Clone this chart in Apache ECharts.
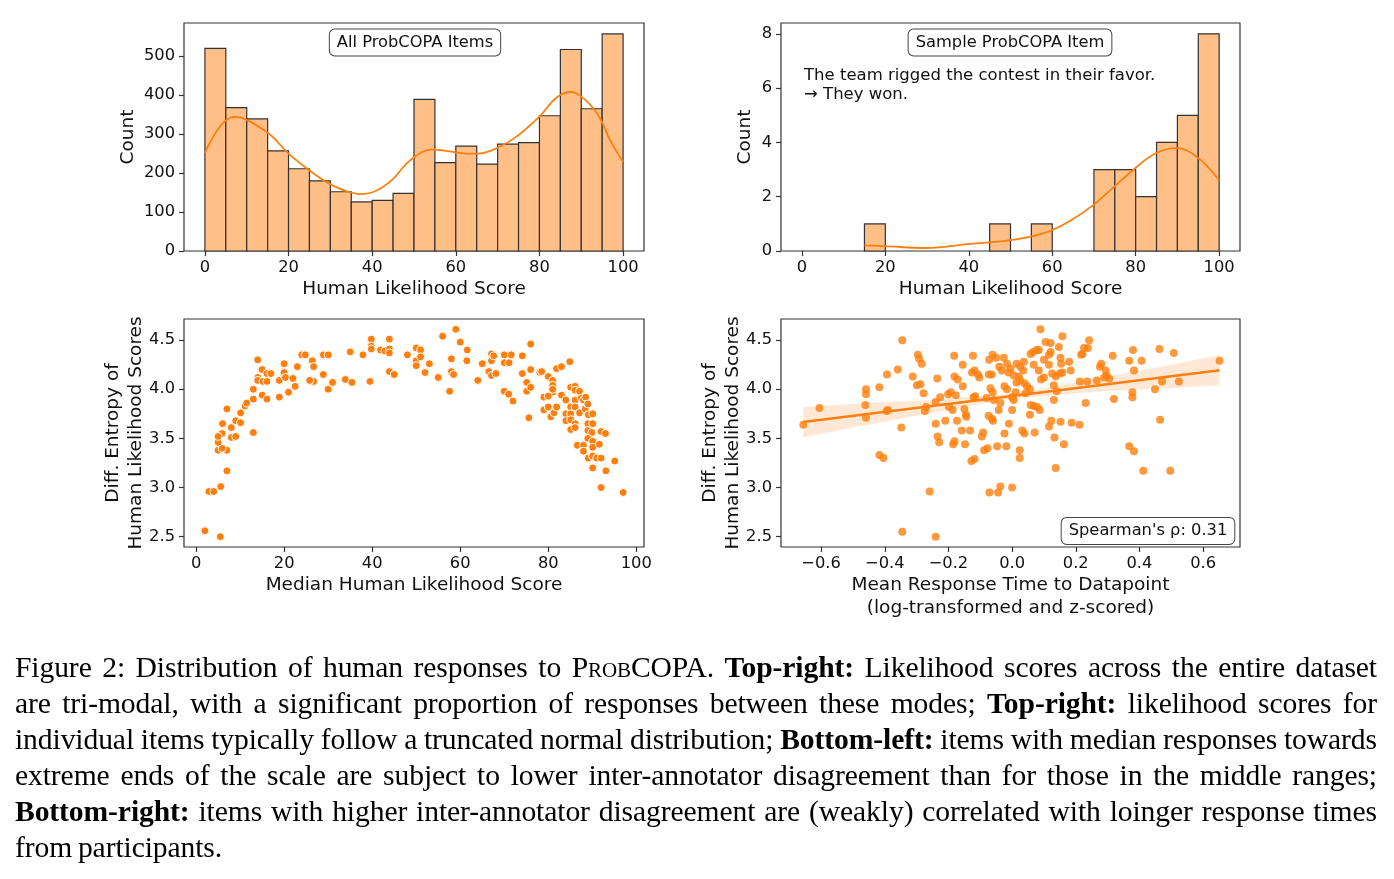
<!DOCTYPE html>
<html>
<head>
<meta charset="utf-8">
<script src="https://cdn.jsdelivr.net/npm/echarts@6/dist/echarts.min.js"></script>
<style>
html, body { margin: 0; padding: 0; background: #fff; }
#chart { position: absolute; left: 0; top: 0; width: 1394px; height: 879px; }
#caption {
  position: absolute; left: 15px; top: 649px; width: 1362px;
  font-family: "Liberation Serif", "Times New Roman", serif;
  font-size: 29.6px; line-height: 36px; letter-spacing: -0.1px; word-spacing: -1.5px; color: #000;
}
#caption div { white-space: nowrap; text-align: justify; text-align-last: justify; }
#caption div.last { text-align-last: left; }
.sc { font-variant: small-caps; }
</style>
</head>
<body>
<div id="chart"></div>
<div id="caption">
  <div>Figure 2: Distribution of human responses to <span class="sc">ProbCOPA</span>. <b>Top-right:</b> Likelihood scores across the entire dataset</div>
  <div>are tri-modal, with a significant proportion of responses between these modes; <b>Top-right:</b> likelihood scores for</div>
  <div>individual items typically follow a truncated normal distribution; <b>Bottom-left:</b> items with median responses towards</div>
  <div>extreme ends of the scale are subject to lower inter-annotator disagreement than for those in the middle ranges;</div>
  <div><b>Bottom-right:</b> items with higher inter-annotator disagreement are (weakly) correlated with loinger response times</div>
  <div class="last">from participants.</div>
</div>
<script>
// histogram bins (width 5)
const binWidth = 5
const binStarts = [0, 5, 10, 15, 20, 25, 30, 35, 40, 45, 50, 55, 60, 65, 70, 75, 80, 85, 90, 95]
const allCounts = [520, 368, 339, 257, 211, 180, 152, 126, 130, 148, 389, 227, 269, 223, 274, 278, 347, 517, 365, 557]
const sampleCounts = [0, 0, 0, 1, 0, 0, 0, 0, 0, 1, 0, 1, 0, 0, 3, 3, 2, 4, 5, 8]

// kde curves
const allKdeX = [0, 7, 14.7, 20, 25, 30, 34.3, 37, 40.4, 44.7, 48.2, 51.6, 54.2, 57.6, 62.7, 65.3, 68.7, 73.9, 79.9, 84.1, 87.5, 91, 94.3, 96.9, 100]
const allKdeY = [252, 344, 306, 250, 207, 171, 152, 146, 152, 182, 224, 252, 260, 257, 250, 250, 259, 289, 344, 394, 408, 387, 344, 284, 229]
const sampleKdeX = [15, 19.8, 29.8, 39.7, 49.6, 54.5, 59.5, 64.5, 69.8, 74.8, 79.8, 84.7, 89.7, 94.6, 100]
const sampleKdeY = [0.21, 0.18, 0.11, 0.25, 0.39, 0.52, 0.74, 1.13, 1.69, 2.36, 3.04, 3.59, 3.79, 3.47, 2.61]

// tick labels
const scoreTicks = [0, 20, 40, 60, 80, 100]
const allCountTicks = [0, 100, 200, 300, 400, 500]
const sampleCountTicks = [0, 2, 4, 6, 8]
const entropyTicks = [2.5, 3.0, 3.5, 4.0, 4.5]
const timeTicks = [-0.6, -0.4, -0.2, 0, 0.2, 0.4, 0.6]

// bottom-left: [median score, diff. entropy]
const medianVsEntropy = [
  [2.0,2.56],[5.5,2.50],[2.9,2.96],[4.0,2.96],[5.6,3.01],[7.0,3.17],[5.0,3.38],[7.0,3.38],[5.9,3.40],[5.0,3.46],
  [5.9,3.55],[5.0,3.52],[8.0,3.51],[9.0,3.52],[6.0,3.65],[8.0,3.61],[9.0,3.68],[7.0,3.80],[10.1,3.66],[10.1,3.76],
  [11.1,3.83],[11.5,3.86],[13.0,3.56],[13.0,3.90],[13.0,4.00],[14.0,4.30],[14.0,4.12],[14.0,4.09],[15.0,4.20],[15.0,3.94],
  [16.1,3.90],[16.1,4.16],[17.0,4.16],[15.2,4.08],[16.1,4.08],[18.9,3.92],[21.0,3.97],[18.9,4.09],[20.0,4.26],[20.0,4.14],
  [20.0,4.17],[20.3,4.12],[22.0,4.11],[22.5,4.03],[23.0,4.23],[24.0,4.35],[24.8,4.35],[26.4,4.29],[26.7,4.23],[26.7,4.08],
  [25.8,4.09],[28.9,4.35],[30.0,4.35],[28.9,4.15],[30.0,4.00],[31.0,4.07],[33.9,4.10],[35.4,4.07],[35.0,4.38],[37.9,4.35],
  [39.5,4.08],[39.8,4.51],[39.8,4.44],[39.8,4.41],[41.9,4.40],[42.9,4.39],[43.9,4.51],[43.9,4.41],[43.9,4.37],[43.9,4.18],
  [45.0,4.15],[48.0,4.35],[50.0,4.42],[51.0,4.40],[50.0,4.29],[50.0,4.24],[51.0,4.33],[53.0,4.26],[52.0,4.17],[55.0,4.12],
  [56.0,4.54],[58.0,4.31],[57.6,3.98],[58.0,4.18],[58.5,4.15],[59.0,4.61],[60.0,4.48],[61.6,4.40],[61.5,4.29],[64.0,4.09],
  [65.0,4.26],[67.1,4.36],[67.1,4.29],[67.6,4.34],[66.5,4.18],[67.1,4.14],[68.1,4.16],[70.0,4.35],[71.6,4.35],[70.0,4.27],
  [71.1,4.27],[70.0,3.98],[71.0,3.95],[72.0,3.88],[74.1,4.34],[74.1,4.16],[75.1,4.07],[75.1,3.98],[76.0,4.46],[76.0,4.20],
  [76.0,4.02],[75.6,3.71],[78.1,4.17],[78.5,4.18],[80.0,4.13],[81.0,4.09],[81.0,4.04],[81.0,3.97],[81.0,4.00],[81.9,4.21],
  [83.0,4.23],[84.9,4.28],[79.0,3.92],[80.0,3.93],[79.0,3.79],[80.0,3.82],[80.6,3.72],[81.3,3.76],[81.9,3.82],[83.0,3.94],
  [84.0,3.89],[84.0,3.75],[84.0,3.68],[85.1,4.02],[85.1,3.82],[85.1,3.75],[85.1,3.69],[85.1,3.59],[86.1,4.03],[86.1,3.99],
  [86.1,3.89],[86.1,3.82],[86.1,3.65],[86.1,3.61],[87.1,3.98],[87.5,3.91],[87.1,3.76],[88.0,3.89],[88.5,3.92],[88.4,3.80],
  [89.0,3.85],[89.1,3.74],[90.1,3.75],[89.0,3.65],[90.1,3.65],[89.0,3.58],[89.9,3.56],[86.6,3.43],[88.0,3.43],[89.0,3.50],
  [90.1,3.47],[88.0,3.37],[90.1,3.41],[89.1,3.30],[90.1,3.32],[91.0,3.30],[92.0,3.30],[91.6,3.44],[92.0,3.57],[93.0,3.55],
  [90.1,3.20],[93.1,3.17],[95.1,3.27],[92.0,3.00],[97.0,2.95]
]

// bottom-right: [mean response time (log, z), diff. entropy]
const timeVsEntropy = [
  [-0.656,3.64],[-0.605,3.81],[-0.459,4.00],[-0.459,3.95],[-0.461,3.84],[-0.459,3.71],[-0.417,4.02],[-0.417,3.33],[-0.404,3.30],[-0.394,3.78],
  [-0.39,3.79],[-0.393,4.15],[-0.359,4.20],[-0.345,4.50],[-0.348,3.61],[-0.345,2.55],[-0.312,4.13],[-0.296,4.35],[-0.292,4.31],[-0.284,4.26],
  [-0.299,4.04],[-0.288,4.05],[-0.278,3.96],[-0.27,3.82],[-0.274,3.78],[-0.259,2.96],[-0.24,3.65],[-0.24,2.50],[-0.235,4.11],[-0.234,3.52],
  [-0.229,3.46],[-0.226,3.92],[-0.24,3.87],[-0.21,3.68],[-0.201,3.95],[-0.193,3.97],[-0.185,3.44],[-0.181,3.47],[-0.182,4.34],[-0.198,3.82],
  [-0.187,3.79],[-0.181,4.13],[-0.171,4.10],[-0.177,3.94],[-0.173,3.68],[-0.155,4.25],[-0.155,4.03],[-0.15,3.80],[-0.145,3.74],[-0.144,3.72],
  [-0.148,3.44],[-0.158,3.58],[-0.132,3.58],[-0.123,4.34],[-0.126,4.17],[-0.118,4.19],[-0.121,3.92],[-0.116,3.93],[-0.128,3.27],[-0.118,3.29],
  [-0.107,4.15],[-0.103,4.12],[-0.095,3.52],[-0.091,3.56],[-0.088,3.38],[-0.077,3.40],[-0.08,3.91],[-0.072,4.30],[-0.061,4.35],[-0.05,4.32],
  [-0.073,4.15],[-0.064,4.15],[-0.074,3.73],[-0.063,3.70],[-0.06,3.68],[-0.071,2.95],[-0.044,2.95],[-0.037,3.01],[-0.068,4.01],[-0.061,3.97],
  [-0.057,3.89],[-0.047,3.42],[-0.04,4.23],[-0.032,4.19],[-0.042,3.79],[-0.037,3.86],[0.0,3.92],[-0.01,3.65],
  [-0.026,4.32],[-0.016,4.26],[-0.005,4.21],[-0.024,4.03],[-0.016,4.00],[-0.011,4.17],[0.005,4.14],[0.014,4.26],[0.026,4.23],[0.037,4.28],
  [0.035,4.19],[0.021,4.13],[0.026,4.09],[0.014,4.07],[0.039,4.06],[0.047,4.03],[0.056,4.00],[0.042,3.96],[0.011,3.97],[0.005,3.89],
  [0.0,3.79],[-0.024,3.55],[-0.018,3.42],[0.0,3.00],[0.024,3.38],[0.024,3.30],[0.032,3.58],[0.039,3.55],[0.058,3.84],[0.068,3.83],
  [0.079,3.82],[0.087,3.79],[0.056,3.74],[0.071,3.56],[0.058,4.36],[0.066,4.38],[0.077,4.40],[0.084,4.40],[0.089,4.61],[0.1,4.12],
  [0.091,4.10],[0.084,4.19],[0.068,4.25],[0.105,4.48],[0.121,4.47],[0.116,4.35],[0.121,4.38],[0.1,4.30],[0.116,4.25],[0.126,4.16],
  [0.137,4.13],[0.131,4.04],[0.14,3.98],[0.147,4.43],[0.158,4.54],[0.152,4.32],[0.154,4.26],[0.158,4.17],[0.15,4.16],[0.131,3.89],
  [0.123,3.68],[0.116,3.62],[0.133,3.51],[0.137,3.20],[0.152,3.67],[0.163,3.44],[0.179,4.28],[0.184,4.19],[0.187,3.66],[0.212,3.64],
  [0.213,4.08],[0.221,4.36],[0.217,4.35],[0.226,4.42],[0.242,4.50],[0.238,4.42],[0.231,3.86],[0.236,4.08],[0.266,4.09],[0.276,4.23],
  [0.28,4.26],[0.294,4.19],[0.297,4.14],[0.305,4.11],[0.289,4.12],[0.316,4.34],[0.32,3.90],[0.368,4.29],[0.38,4.40],[0.383,4.19],
  [0.378,3.97],[0.378,3.92],[0.368,3.42],[0.383,3.37],[0.407,4.29],[0.412,3.17],[0.449,4.00],[0.463,4.41],[0.471,4.08],[0.465,3.69],
  [0.508,4.37],[0.524,4.08],[0.497,3.17],[0.652,4.29]
]

// regression line and its confidence band
const regX = [-0.656, 0.652]
const regY = [3.666, 4.193]
const bandX = [-0.656, -0.5, -0.4, -0.3, -0.2, -0.1, 0, 0.1, 0.2, 0.3, 0.4, 0.5, 0.652]
const bandLow = [3.51, 3.61, 3.67, 3.73, 3.79, 3.85, 3.90, 3.93, 3.96, 3.98, 4.00, 4.01, 4.04]
const bandHigh = [3.82, 3.85, 3.87, 3.88, 3.91, 3.93, 3.96, 4.01, 4.07, 4.13, 4.19, 4.25, 4.35]

const FONT = 'DejaVu Sans'
const AX = '#333'
const ORANGE = '#ff7f0e'

const valueAxis = (gridIndex, min, max, ticks, fmt, name, nameGap) => ({
  type: 'value', gridIndex, min, max,
  name, nameLocation: 'middle', nameGap, nameMoveOverlap: false,
  nameTextStyle: {fontFamily: FONT, fontSize: 18.5, color: '#111', lineHeight: 22.5},
  axisLine: {show: false, onZero: false},
  axisTick: {show: true, inside: false, length: 5, customValues: ticks, lineStyle: {color: AX, width: 1.2}},
  axisLabel: {customValues: ticks, formatter: fmt, margin: 9, fontFamily: FONT, fontSize: 16.3, color: '#111', hideOverlap: false},
  splitLine: {show: false}
})

const intFmt = v => String(Math.round(v))
const oneDec = v => v.toFixed(1)
const signedDec = v => (v < -1e-9 ? '\u2212' : '') + Math.abs(v).toFixed(1)

const histItem = (params, api) => {
  const c = api.value(2)
  if (!c) return null
  const p0 = api.coord([api.value(0), c])
  const p1 = api.coord([api.value(1), 0])
  return {
    type: 'rect',
    shape: {x: p0[0], y: p0[1], width: p1[0] - p0[0], height: p1[1] - p0[1]},
    style: {fill: '#ffbf86', stroke: '#333', lineWidth: 1.2}
  }
}

const bandItem = (params, api) => {
  if (params.dataIndex !== 0) return null
  const pts = bandX.map((x, i) => api.coord([x, bandHigh[i]]))
  for (let i = bandX.length - 1; i >= 0; i--) pts.push(api.coord([bandX[i], bandLow[i]]))
  return {type: 'polygon', shape: {points: pts}, style: {fill: 'rgba(255,127,14,0.17)'}}
}

const boxText = (x, y, text) => ({
  type: 'text', x, y, z: 100,
  style: {
    text, fontFamily: FONT, fontSize: 16.3, fill: '#111', align: 'center', verticalAlign: 'middle',
    backgroundColor: '#fff', borderColor: '#444', borderWidth: 1, borderRadius: 5, padding: [5, 7]
  }
})

const gridBox = {show: true, borderColor: AX, borderWidth: 1.2, backgroundColor: 'transparent'}

const option = {
  animation: false,
  grid: [
    {left: 184, top: 23, width: 460, height: 228, ...gridBox},
    {left: 781, top: 23, width: 459, height: 228, ...gridBox},
    {left: 184, top: 319, width: 460, height: 228, ...gridBox},
    {left: 781, top: 319, width: 459, height: 228, ...gridBox}
  ],
  xAxis: [
    valueAxis(0, -5, 105, scoreTicks, intFmt, 'Human Likelihood Score', 27),
    valueAxis(1, -5, 105, scoreTicks, intFmt, 'Human Likelihood Score', 27),
    valueAxis(2, -2.75, 101.75, scoreTicks, intFmt, 'Median Human Likelihood Score', 27),
    valueAxis(3, -0.726, 0.716, timeTicks, signedDec, 'Mean Response Time to Datapoint\n(log-transformed and z-scored)', 27)
  ],
  yAxis: [
    valueAxis(0, 0, 585, allCountTicks, intFmt, 'Count', 45),
    valueAxis(1, 0, 8.4, sampleCountTicks, intFmt, 'Count', 25),
    valueAxis(2, 2.395, 4.715, entropyTicks, oneDec, 'Diff. Entropy of\nHuman Likelihood Scores', 37),
    valueAxis(3, 2.395, 4.715, entropyTicks, oneDec, 'Diff. Entropy of\nHuman Likelihood Scores', 37)
  ],
  graphic: [
    boxText(415, 42.5, 'All ProbCOPA Items'),
    boxText(1010, 42.5, 'Sample ProbCOPA Item'),
    boxText(1148, 531, "Spearman's \u03c1: 0.31"),
    {
      type: 'text', x: 804, y: 66, z: 100,
      style: {
        text: 'The team rigged the contest in their favor.\n\u2192 They won.',
        fontFamily: FONT, fontSize: 16.5, fill: '#111', lineHeight: 19, align: 'left', verticalAlign: 'top'
      }
    }
  ],
  series: [
    {
      type: 'custom', xAxisIndex: 0, yAxisIndex: 0, renderItem: histItem,
      encode: {x: [0, 1], y: 2},
      data: binStarts.map((s, i) => [s, s + binWidth, allCounts[i]])
    },
    {
      type: 'line', xAxisIndex: 0, yAxisIndex: 0, smooth: 0.4, showSymbol: false, z: 5,
      lineStyle: {color: ORANGE, width: 1.8},
      data: allKdeX.map((x, i) => [x, allKdeY[i]])
    },
    {
      type: 'custom', xAxisIndex: 1, yAxisIndex: 1, renderItem: histItem,
      encode: {x: [0, 1], y: 2},
      data: binStarts.map((s, i) => [s, s + binWidth, sampleCounts[i]])
    },
    {
      type: 'line', xAxisIndex: 1, yAxisIndex: 1, smooth: 0.4, showSymbol: false, z: 5,
      lineStyle: {color: ORANGE, width: 1.8},
      data: sampleKdeX.map((x, i) => [x, sampleKdeY[i]])
    },
    {
      type: 'scatter', xAxisIndex: 2, yAxisIndex: 2, symbolSize: 8,
      itemStyle: {color: ORANGE, borderColor: '#fff', borderWidth: 1, opacity: 1},
      data: medianVsEntropy
    },
    {
      type: 'scatter', xAxisIndex: 3, yAxisIndex: 3, symbolSize: 8,
      itemStyle: {color: ORANGE, opacity: 0.8},
      data: timeVsEntropy
    },
    {
      type: 'custom', xAxisIndex: 3, yAxisIndex: 3, renderItem: bandItem, z: 3,
      encode: {x: 0, y: [1, 2]},
      data: bandX.map((x, i) => [x, bandLow[i], bandHigh[i]])
    },
    {
      type: 'line', xAxisIndex: 3, yAxisIndex: 3, showSymbol: false, z: 4,
      lineStyle: {color: ORANGE, width: 2.5},
      data: regX.map((x, i) => [x, regY[i]])
    }
  ]
}

const chart = echarts.init(document.getElementById('chart'))
chart.setOption(option)
</script>
</body>
</html>
